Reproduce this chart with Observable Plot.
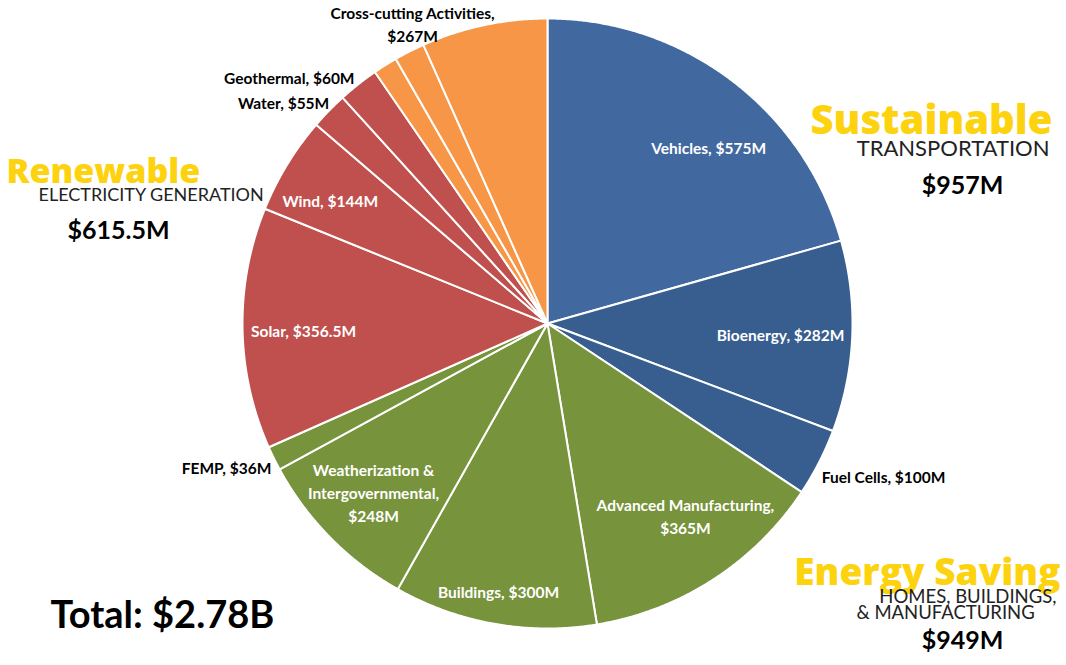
<!DOCTYPE html>
<html>
<head>
<meta charset="utf-8">
<script src="https://cdn.jsdelivr.net/npm/d3@7"></script>
<script src="https://cdn.jsdelivr.net/npm/@observablehq/plot@0.6"></script>
<style>
  html, body { margin: 0; padding: 0; background: #fff; }
  #chart { width: 1066px; height: 665px; }
</style>
</head>
<body>
<div id="chart"></div>
<script>
// ---- data ----
const categories = ["Vehicles", "Bioenergy", "Fuel Cells", "Advanced Manufacturing", "Buildings",
  "Weatherization & Intergovernmental", "FEMP", "Solar", "Wind", "Water", "Geothermal",
  "Cross-cutting 1", "Cross-cutting 2", "Cross-cutting 3"];
const values = [575, 282, 100, 365, 300, 248, 36, 356.5, 144, 55, 60, 36, 45, 186];
const programs = ["Transportation", "Transportation", "Transportation",
  "Energy Saving", "Energy Saving", "Energy Saving", "Energy Saving",
  "Renewable", "Renewable", "Renewable", "Renewable",
  "Cross-cutting", "Cross-cutting", "Cross-cutting"];
const sliceLabels = ["Vehicles, $575M", "Bioenergy, $282M", "Fuel Cells, $100M",
  "Advanced Manufacturing,\n$365M", "Buildings, $300M", "Weatherization &\nIntergovernmental,\n$248M",
  "FEMP, $36M", "Solar, $356.5M", "Wind, $144M", "Water, $55M", "Geothermal, $60M",
  "", "", "Cross-cutting Activities,\n$267M"];
const groupNames = ["Sustainable", "Energy Saving", "Renewable"];
const groupSubtitles = ["TRANSPORTATION", "HOMES, BUILDINGS,", "& MANUFACTURING", "ELECTRICITY GENERATION"];
const groupTotals = ["$957M", "$949M", "$615.5M"];
const totalLabel = "Total: $2.78B";

// ---- styles ----
const shade = (i) => i === 0 ? "Vehicles" : programs[i];
const palette = {
  "Vehicles": "#4169A0",
  "Transportation": "#385E8F",
  "Energy Saving": "#77933C",
  "Renewable": "#C0504D",
  "Cross-cutting": "#F79646"
};
// label placement (angle in degrees clockwise from top, radius as fraction of pie radius)
const labelLayout = [
  {a: 42.3, r: 0.785, inside: true}, {a: 92.5, r: 0.765, inside: true}, {a: 114.3, r: 1.209, inside: false},
  {a: 144.3, r: 0.775, inside: true}, {a: 190.4, r: 0.89, inside: true}, {a: 226.0, r: 0.793, inside: true},
  {a: 246.0, r: 1.152, inside: false}, {a: 268.6, r: 0.80, inside: true}, {a: 299.7, r: 0.82, inside: true},
  {a: 310.1, r: 1.131, inside: false}, {a: 313.7, r: 1.171, inside: false},
  null, null, {a: 335.8, r: 1.079, inside: false}
];

// ---- geometry from values ----
const arcs = d3.pie().sort(null).value(d => d)(values);
const slices = arcs.map((a, i) => {
  const pts = [{x: 0, y: 0}];
  const n = Math.max(2, Math.ceil((a.endAngle - a.startAngle) / 0.005));
  for (let k = 0; k <= n; k++) {
    const t = a.startAngle + (a.endAngle - a.startAngle) * k / n;
    pts.push({x: Math.sin(t), y: -Math.cos(t)});
  }
  return {i, pts, color: palette[shade(i)]};
});
const labels = labelLayout.map((L, i) => L && {
  text: sliceLabels[i],
  x: L.r * Math.sin(L.a * Math.PI / 180),
  y: -L.r * Math.cos(L.a * Math.PI / 180),
  fill: L.inside ? "#ffffff" : "#000000"
}).filter(Boolean);

// annotation placement in pixels converted to the plot's unit-circle space
const cx = 547, cy = 323, R = 305;
const ux = p => (p - cx) / R, uy = p => (p - cy) / R;

const font = "Lato, 'Open Sans', sans-serif";
const headFont = "'Open Sans', Lato, sans-serif";
const subFont = "Lato, sans-serif";
const one = (v, o) => Plot.text([v], {text: d => d, ...o});

const chart = Plot.plot({
  width: 1066,
  height: 665,
  margin: 0,
  x: {domain: [-1, 1], range: [cx - R, cx + R], axis: null},
  y: {domain: [-1, 1], range: [cy - R, cy + R], axis: null},
  style: {background: "#ffffff", fontFamily: font},
  marks: [
    ...slices.map(s => Plot.line(s.pts, {x: "x", y: "y", curve: "linear-closed",
      fill: s.color, stroke: "#ffffff", strokeWidth: 2, strokeLinejoin: "round"})),
    Plot.text(labels, {x: "x", y: "y", text: "text", fill: "fill", fontSize: 15.5, fontWeight: "bold",
      lineHeight: 1.48, fontFamily: font}),
    // Sustainable Transportation
    one(groupNames[0], {x: ux(1052), y: uy(121), textAnchor: "end", fill: "#FDD20E",
      fontSize: 40, fontWeight: 800, fontFamily: headFont, style: "letter-spacing:-2.6px"}),
    one(groupSubtitles[0], {x: ux(1049), y: uy(148), textAnchor: "end", fill: "#222",
      fontSize: 22, fontWeight: 400, fontFamily: subFont}),
    one(groupTotals[0], {x: ux(962), y: uy(185), fill: "#000",
      fontSize: 25, fontWeight: "bold", fontFamily: font}),
    // Energy Saving
    one(groupNames[1], {x: ux(1060), y: uy(573), textAnchor: "end", fill: "#FDD20E",
      fontSize: 37, fontWeight: 800, fontFamily: headFont, style: "letter-spacing:-3.8px"}),
    one(groupSubtitles[1], {x: ux(1056), y: uy(597), textAnchor: "end", fill: "#222",
      fontSize: 18.5, fontWeight: 400, fontFamily: subFont}),
    one(groupSubtitles[2], {x: ux(856), y: uy(613), textAnchor: "start", fill: "#222",
      fontSize: 18.5, fontWeight: 400, fontFamily: subFont}),
    one(groupTotals[1], {x: ux(962), y: uy(640), fill: "#000",
      fontSize: 25, fontWeight: "bold", fontFamily: font}),
    // Renewable Electricity Generation
    one(groupNames[2], {x: ux(6), y: uy(172), textAnchor: "start", fill: "#FDD20E",
      fontSize: 34, fontWeight: 800, fontFamily: headFont, style: "letter-spacing:-2.8px"}),
    one(groupSubtitles[3], {x: ux(38), y: uy(195), textAnchor: "start", fill: "#222",
      fontSize: 18, fontWeight: 400, fontFamily: subFont}),
    one(groupTotals[2], {x: ux(118), y: uy(230), fill: "#000",
      fontSize: 25, fontWeight: "bold", fontFamily: font}),
    // Total
    one(totalLabel, {x: ux(50), y: uy(615), textAnchor: "start", fill: "#000",
      fontSize: 38, fontWeight: "bold", fontFamily: font})
  ]
});
document.getElementById("chart").appendChild(chart);
</script>
</body>
</html>
